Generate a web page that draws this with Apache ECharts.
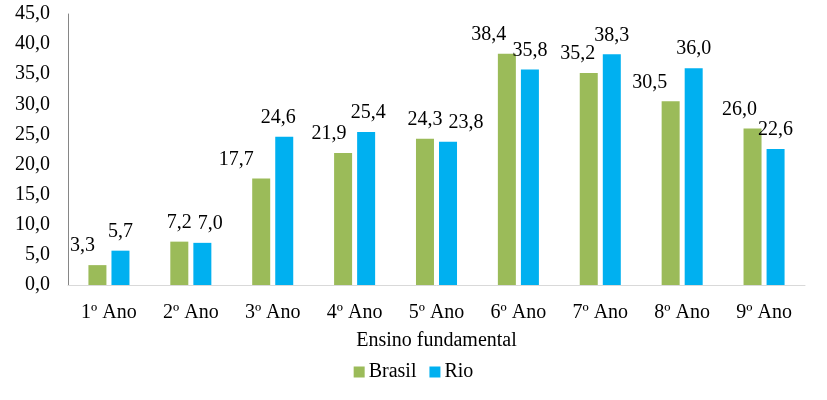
<!DOCTYPE html>
<html>
<head>
<meta charset="utf-8">
<script src="https://cdn.jsdelivr.net/npm/echarts@6/dist/echarts.min.js"></script>
<style>
  html, body { margin: 0; padding: 0; background: #fff; }
  #chart { width: 827px; height: 400px; }
</style>
</head>
<body>
<div id="chart"></div>
<script>
// dados
const anos = ['1º Ano', '2º Ano', '3º Ano', '4º Ano', '5º Ano', '6º Ano', '7º Ano', '8º Ano', '9º Ano']
const brasil = [3.3, 7.2, 17.7, 21.9, 24.3, 38.4, 35.2, 30.5, 26.0]
const rio = [5.7, 7.0, 24.6, 25.4, 23.8, 35.8, 38.3, 36.0, 22.6]

// deslocamento horizontal dos rótulos (como foram arrastados no original)
const deslocBrasil = [-15, 0, -25, -14, 0, -18, -11, -21, -13]
const deslocRio = [0, 8, -6, 2, 18, 0, 0, 0, 0]

const fonte = 'Liberation Serif'
const virgula = v => v.toFixed(1).replace('.', ',')

function itens (valores, desloc) {
  return valores.map((v, i) => ({ value: v, label: { offset: [desloc[i], 0] } }))
}

let chart = echarts.init(document.getElementById('chart'))
chart.setOption({
  animation: false,
  textStyle: { fontFamily: fonte },
  grid: { left: 68, right: 22, top: 14, bottom: 115 },
  legend: {
    data: ['Brasil', 'Rio'],
    bottom: 13,
    left: 'center',
    itemWidth: 11,
    itemHeight: 11,
    itemGap: 13,
    icon: 'rect',
    textStyle: { fontFamily: fonte, fontSize: 20, color: '#000', padding: [0, 0, 0, -1] }
  },
  xAxis: {
    type: 'category',
    data: anos,
    name: 'Ensino fundamental',
    nameLocation: 'middle',
    nameGap: 46,
    nameTextStyle: { fontFamily: fonte, fontSize: 20, color: '#000' },
    axisLine: { lineStyle: { color: '#D9D9D9' } },
    axisTick: { show: false },
    axisLabel: { fontFamily: fonte, fontSize: 20, color: '#000', margin: 18, interval: 0 }
  },
  yAxis: {
    type: 'value',
    min: 0,
    max: 45,
    interval: 5,
    splitLine: { show: false },
    axisLine: { show: true, lineStyle: { color: '#868686' } },
    axisTick: { show: false },
    axisLabel: {
      fontFamily: fonte, fontSize: 20, color: '#000', margin: 18,
      formatter: v => virgula(v)
    }
  },
  series: [
    {
      name: 'Brasil',
      type: 'bar',
      data: itens(brasil, deslocBrasil),
      barWidth: 18,
      barGap: '28%',
      itemStyle: { color: '#9BBB59' },
      label: {
        show: true, position: 'top', distance: 9,
        fontFamily: fonte, fontSize: 20, color: '#000',
        formatter: p => virgula(p.value)
      }
    },
    {
      name: 'Rio',
      type: 'bar',
      data: itens(rio, deslocRio),
      barWidth: 18,
      itemStyle: { color: '#00B0F0' },
      label: {
        show: true, position: 'top', distance: 9,
        fontFamily: fonte, fontSize: 20, color: '#000',
        formatter: p => virgula(p.value)
      }
    }
  ]
})
</script>
</body>
</html>
